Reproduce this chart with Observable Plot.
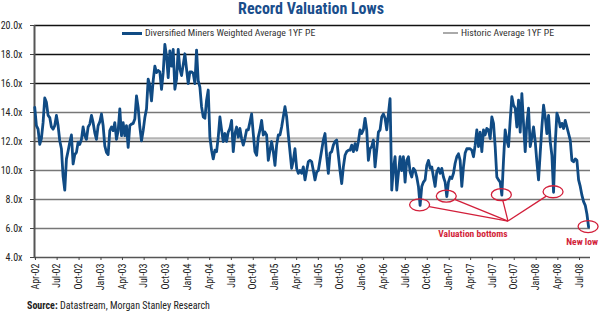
<!DOCTYPE html>
<html>
<head>
<meta charset="utf-8">
<script src="https://cdn.jsdelivr.net/npm/d3@7"></script>
<script src="https://cdn.jsdelivr.net/npm/@observablehq/plot@0.6"></script>
<style>
  body { margin: 0; background: #fff; }
  #wrap { position: relative; width: 601px; height: 325px; overflow: hidden;
          font-family: "Roboto Condensed", "Liberation Sans Narrow", "DejaVu Sans Condensed", sans-serif; }
  #title { position: absolute; left: 311px; top: 1px; transform: translateX(-50%); white-space: nowrap;
           font-size: 16px; line-height: 16px; font-weight: bold; color: #1a4e8c; }
  #chart { position: absolute; left: 0; top: 22px; }
  .leg { position: absolute; font-size: 9.8px; line-height: 12px; color: #333; white-space: nowrap; }
  .sw { position: absolute; }
  #source { position: absolute; left: 27px; top: 300px; font-size: 10px; line-height: 12px; color: #222; white-space: nowrap; }
</style>
</head>
<body>
<div id="wrap">
  <div id="title">Record Valuation Lows</div>
  <div id="chart"></div>
  <div class="sw" style="left:122px;top:31.5px;width:20px;height:3px;background:#104b84"></div>
  <div class="leg" style="left:145px;top:27px">Diversified Miners Weighted Average 1YF PE</div>
  <div class="sw" style="left:443px;top:32px;width:15px;height:2px;background:#aaaaaa"></div>
  <div class="leg" style="left:461px;top:27px">Historic Average 1YF PE</div>
  <div id="source"><b>Source:</b> Datastream, Morgan Stanley Research</div>
</div>
<script>
const FONT = '"Roboto Condensed","Liberation Sans Narrow","DejaVu Sans Condensed",sans-serif';

// Weekly 1YF PE readings (first week ending 2002-03-29)
const pe2002_2003 = [
  14.35, 13.1, 12.85, 11.8, 12.2, 13.3, 15.0, 14.7, 13.8, 13.65,
  13.0, 12.85, 13.1, 13.8, 13.1, 12.05, 11.5, 9.6, 8.65, 10.8,
  11.35, 11.95, 12.45, 10.45, 11.1, 11.25, 11.95, 11.8, 12.15, 13.0,
  12.4, 12.15, 13.0, 13.2, 13.8, 13.3, 12.6, 12.15, 13.1, 13.35,
  13.9, 13.1, 11.7, 11.25, 11.1, 12.75, 13.0, 12.75, 13.3, 12.15,
  12.75, 14.25, 12.4, 13.3, 12.4, 13.1, 11.6, 13.1, 13.2, 13.25,
  13.55, 15.15, 14.35, 13.0, 12.05, 12.75, 13.65, 14.25, 16.3, 15.85,
  14.8, 16.2, 17.2, 16.75, 16.9, 16.8, 15.6, 16.75, 18.7, 17.9,
  16.4, 18.25, 17.2, 18.35, 15.6, 16.3, 18.35, 17.0
];
const pe2003_2004 = [16.55, 17.3, 18.05, 17.0, 16.0, 16.8, 16.8, 16.7, 16.0, 18.3, 16.2, 15.75];
const pe2004_2005 = [
  14.4, 13.7, 13.6, 14.85, 15.55, 12.3, 11.4, 10.8, 11.4, 11.3,
  12.3, 13.7, 12.8, 12.0, 12.55, 12.0, 12.65, 12.9, 13.45, 11.3,
  12.55, 13.0, 12.3, 12.9, 12.2, 11.75, 12.2, 12.8, 12.8, 13.35,
  13.9, 12.55, 11.3, 11.05, 12.3, 12.8, 13.45, 12.45, 12.65, 12.45,
  10.7, 11.4, 12.0, 11.3, 10.35, 11.75, 12.45, 12.45, 13.0, 13.7,
  14.4, 13.7, 12.45, 11.3, 10.15, 10.7, 11.5, 10.15, 9.8, 10.0,
  9.8, 10.25, 9.35, 10.0, 10.6, 10.7, 10.6, 10.0, 9.35, 9.9,
  10.0, 10.7, 11.4, 12.1, 12.55
];
const pe2005_2007 = [
  10.95, 9.8, 11.2, 11.3, 11.75, 12.0, 12.1, 11.05, 10.0, 9.1,
  10.25, 11.05, 11.3, 11.4, 11.4, 11.75, 11.3, 11.85, 11.4, 12.0,
  12.8, 12.55, 12.8, 13.6, 12.8, 10.7, 11.5, 11.65, 12.1, 10.25,
  11.4, 12.65, 12.8, 13.7, 13.9, 13.6, 12.8, 13.9, 14.95, 8.65,
  10.15, 10.95, 8.65, 9.8, 10.95, 10.0, 10.95, 9.2, 10.7, 10.95,
  9.9, 9.55, 10.15, 10.0, 9.55, 8.9, 7.6, 8.9, 9.2, 9.35,
  10.35, 10.7, 10.15, 10.25, 9.55, 8.9, 9.9, 10.15, 9.8, 10.15,
  9.55, 9.2, 8.2, 9.2, 9.55, 9.45, 9.8, 10.5, 10.95, 11.15
];
const pe2007_2008 = [
  10.7, 8.9, 10.25, 11.2, 11.5, 11.5, 11.5, 11.4, 10.95, 11.75,
  12.8, 11.65, 12.65, 11.3, 12.8, 12.45, 12.9, 12.8, 12.2, 13.7,
  13.25, 11.65, 9.55, 9.35, 9.2, 8.3, 10.7, 12.8, 12.1, 11.65,
  13.45, 15.1, 14.5, 14.3, 13.0, 14.85, 12.65, 15.3, 13.25, 11.3,
  13.25, 14.3, 11.65, 12.3, 13.0, 12.0, 10.6, 9.35, 11.2, 13.0,
  14.5, 13.7, 12.55, 13.8, 12.0, 11.05, 8.5, 11.85, 13.95, 13.6,
  13.0, 13.25, 12.9, 13.45, 13.0, 12.55, 12.1, 10.7, 10.6, 10.8,
  10.7, 9.35, 8.9, 8.3, 7.85, 7.6, 7.0, 6.1
];
const firstWeek = "2002-03-29";
const historicAverage = 12.22;

const yTicks = [4, 6, 8, 10, 12, 14, 16, 18, 20];
const xTicks = [
  "2002-04-01","2002-07-01","2002-10-01","2003-01-01","2003-04-01","2003-07-01","2003-10-01",
  "2004-01-01","2004-04-01","2004-07-01","2004-10-01","2005-01-01","2005-04-01","2005-07-01",
  "2005-10-01","2006-01-01","2006-04-01","2006-07-01","2006-10-01","2007-01-01","2007-04-01",
  "2007-07-01","2007-10-01","2008-01-01","2008-04-01","2008-07-01"
];

// annotations
const bottomDates = ["2006-09-01", "2006-12-22", "2007-08-10", "2008-03-14"];
const bottomValues = [7.6, 8.2, 8.3, 8.5];
const newLowDate = "2008-08-08";
const newLowValue = 6.1;
const hub = {date: "2007-09-07", value: 6.48};
const bottomsLabel = {text: "Valuation bottoms", date: "2007-04-13", value: 5.38};
const newLowLabel = {text: "New low", date: "2008-07-14", value: 4.83};

const allPe = [...pe2002_2003, ...pe2003_2004, ...pe2004_2005, ...pe2005_2007, ...pe2007_2008];
const t0 = new Date(firstWeek).getTime();
const series = allPe.map((v, i) => ({date: new Date(t0 + i * 7 * 864e5), pe: v}));

const BLUE = "#104b84", RED = "#d21f3a";

const plot = Plot.plot({
  width: 601, height: 275,
  marginTop: 3, marginBottom: 40, marginLeft: 34, marginRight: 11,
  style: {fontFamily: FONT, fontSize: "10px", color: "#222", background: "white", overflow: "visible"},
  x: {type: "utc", domain: [new Date("2002-03-28"), new Date("2008-08-16")], label: null},
  y: {domain: [4, 20], label: null},
  marks: [
    Plot.ruleY(yTicks.filter(d => d >= 16), {stroke: "#111", strokeWidth: 1.4}),
    Plot.ruleY(yTicks.filter(d => d === 12), {stroke: "#444", strokeWidth: 1.4}),
    Plot.ruleY(yTicks.filter(d => d < 16 && d !== 12 && d !== 4), {stroke: "#777", strokeWidth: 1.5}),
    Plot.ruleY([4], {stroke: "#555", strokeWidth: 1.5}),
    Plot.ruleY([historicAverage], {stroke: "#b4b4b4", strokeWidth: 2.2}),
    Plot.ruleX([new Date("2002-03-28")], {stroke: "#555", strokeWidth: 2}),
    Plot.axisY(yTicks, {label: null, tickFormat: d => d.toFixed(1) + "x", tickSize: 4, tickPadding: 8, stroke: "#444", fill: "#222", fontSize: 10}),
    Plot.axisX(xTicks.map(d => new Date(d)), {label: null, tickFormat: d3.utcFormat("%b-%y"), tickRotate: -90, tickSize: 3, tickPadding: 3, stroke: "#444", fill: "#222", fontSize: 10}),
    Plot.line(series, {x: "date", y: "pe", stroke: BLUE, strokeWidth: 2.8, strokeLinejoin: "round"})
  ]
});
document.getElementById("chart").appendChild(plot);

// annotations drawn with the plot's own scales
const xs = plot.scale("x"), ys = plot.scale("y");
const svg = d3.select(plot);
const g = svg.append("g").attr("fill", "none").attr("stroke", RED).attr("stroke-width", 1.3);
const hx = xs.apply(new Date(hub.date)), hy = ys.apply(hub.value);
const RX = 10, RY = 6;
bottomDates.forEach((d, i) => {
  const cx = xs.apply(new Date(d)), cy = ys.apply(bottomValues[i]);
  g.append("ellipse").attr("cx", cx).attr("cy", cy).attr("rx", RX).attr("ry", RY);
  const a = Math.atan2(hy - cy, hx - cx);
  const dx = Math.cos(a), dy = Math.sin(a);
  const k = 1 / Math.sqrt((dx / RX) ** 2 + (dy / RY) ** 2);
  g.append("line").attr("x1", cx + dx * k).attr("y1", cy + dy * k).attr("x2", hx).attr("y2", hy);
});
g.append("ellipse").attr("cx", xs.apply(new Date(newLowDate))).attr("cy", ys.apply(newLowValue)).attr("rx", RX).attr("ry", RY);
[bottomsLabel, newLowLabel].forEach(l => {
  svg.append("text").attr("x", xs.apply(new Date(l.date))).attr("y", ys.apply(l.value))
    .attr("text-anchor", "middle").attr("fill", RED).attr("font-weight", "bold")
    .attr("font-size", 9.5).attr("font-family", FONT).text(l.text);
});
</script>
</body>
</html>
